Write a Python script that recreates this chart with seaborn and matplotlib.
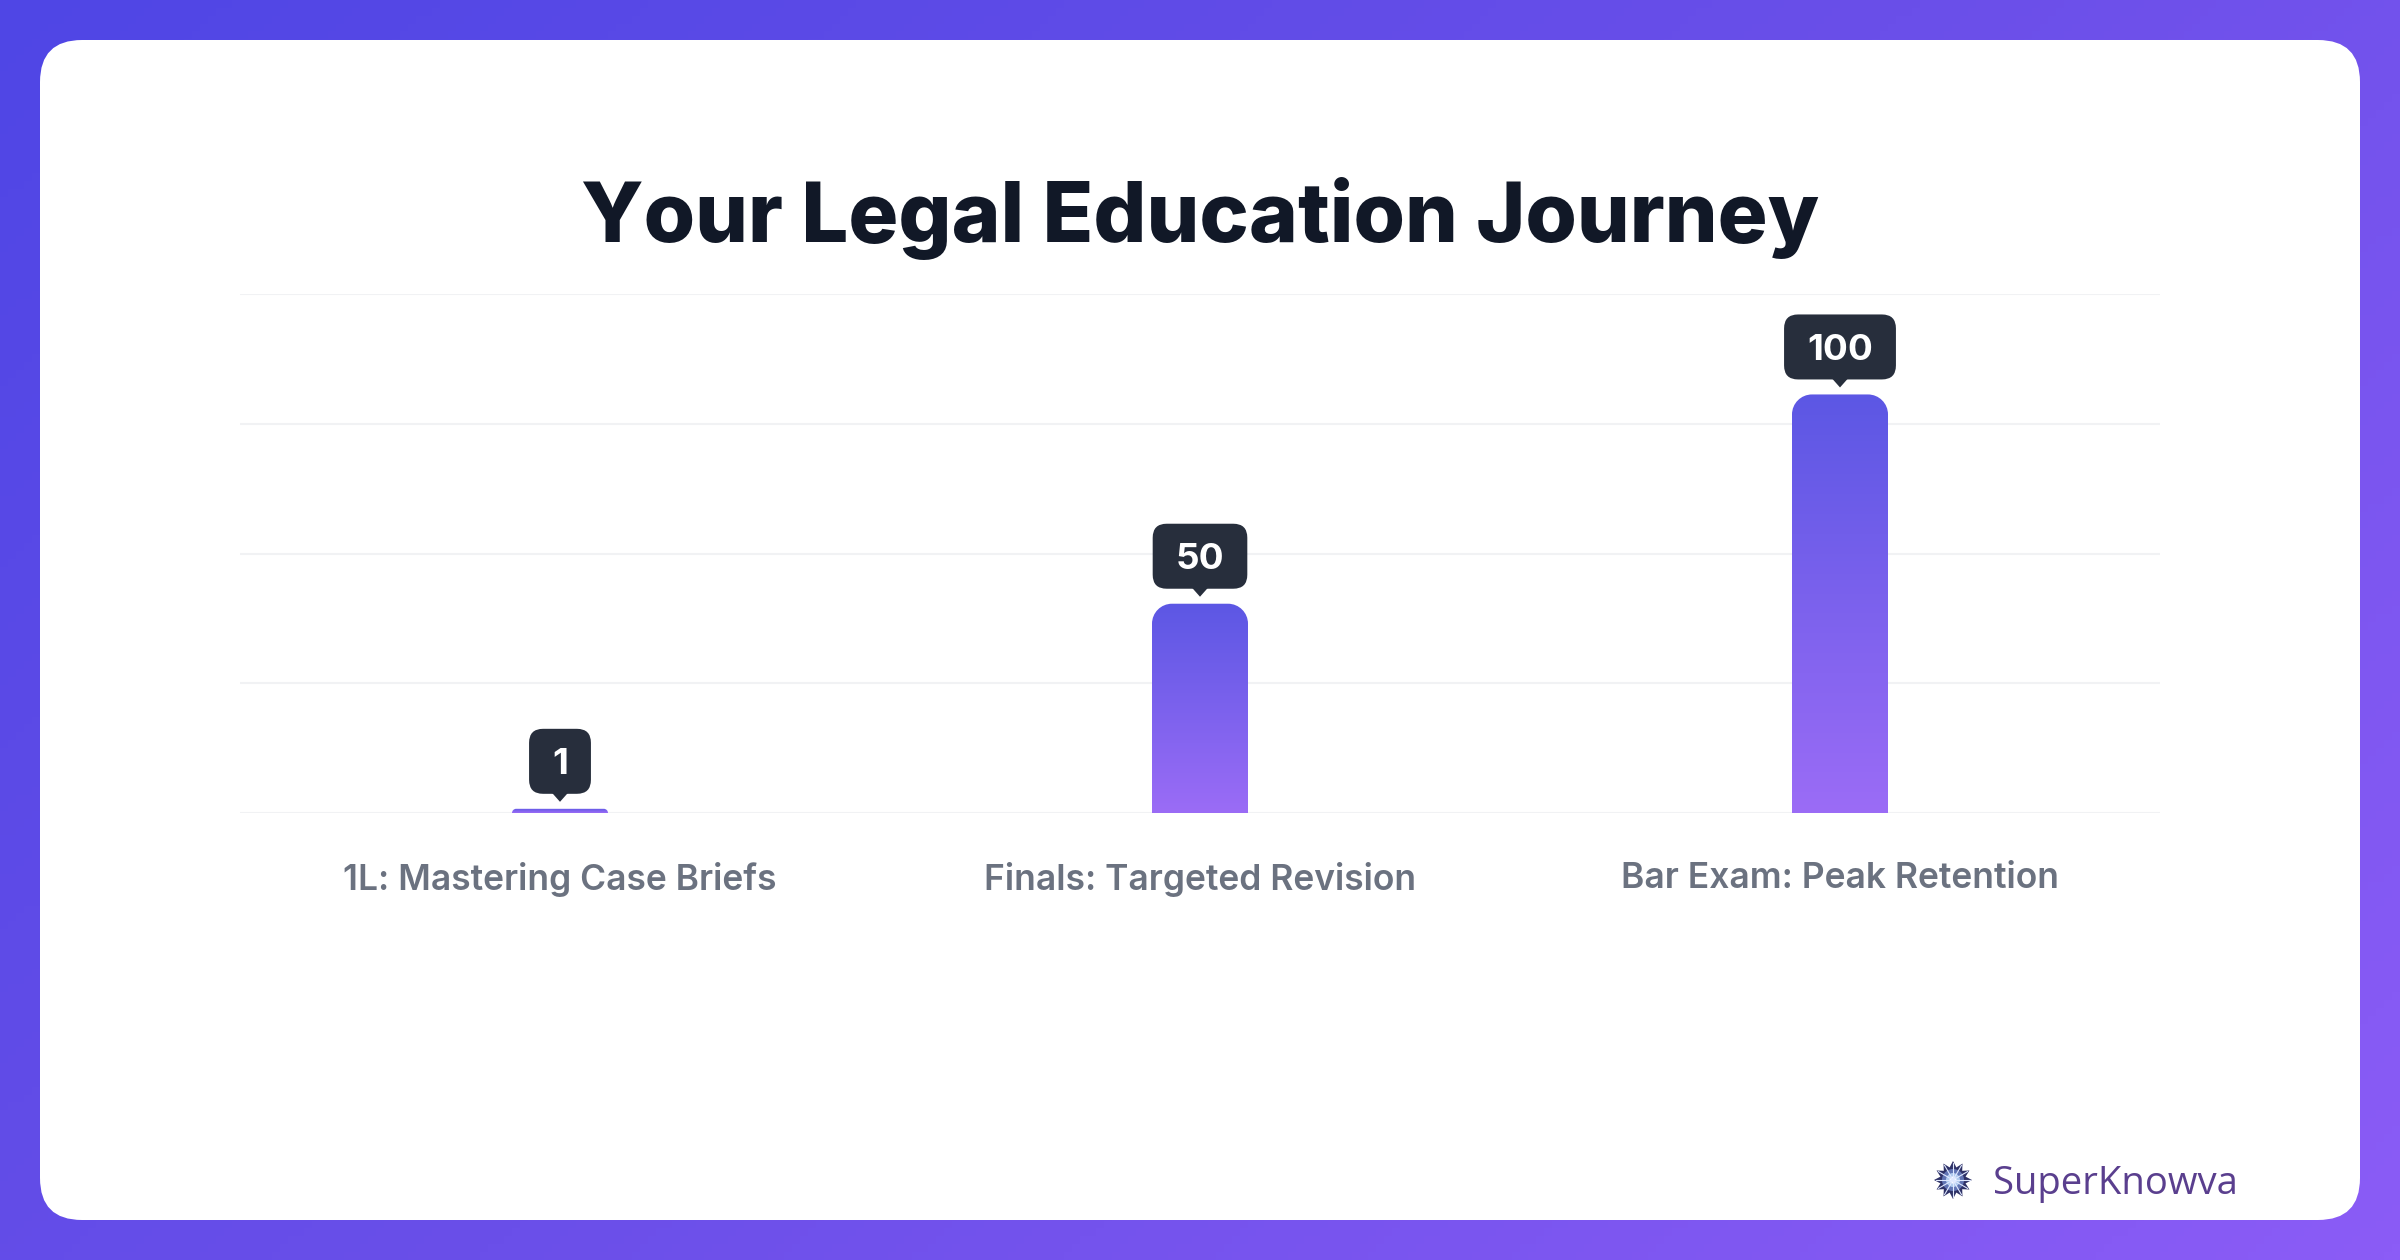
import numpy as np
import pandas as pd
import matplotlib
matplotlib.use('Agg')
import matplotlib.pyplot as plt
import seaborn as sns
from matplotlib.patches import FancyBboxPatch, PathPatch, Polygon, Circle
from matplotlib.path import Path
from matplotlib.transforms import IdentityTransform
from matplotlib.colors import LinearSegmentedColormap

# Chart data
stages = ['1L: Mastering Case Briefs', 'Finals: Targeted Revision', 'Bar Exam: Peak Retention']
scores = [1, 50, 100]
y_max = 124
title = 'Your Legal Education Journey'
brand = 'SuperKnowva'

W, H, DPI = 2400, 1260, 100

sns.set_theme(style='white')
plt.rcParams['font.family'] = ['Inter', 'DejaVu Sans']

fig = plt.figure(figsize=(W / DPI, H / DPI), dpi=DPI)

# Background gradient + white card
bg = fig.add_axes([0, 0, 1, 1])
bg.set_axis_off()
xx, yy = np.meshgrid(np.linspace(0, 1, 300), np.linspace(0, 1, 160))
t = (xx * 0.75 + yy * 0.45) / 1.2
bg_cmap = LinearSegmentedColormap.from_list('bg', ['#4f46e5', '#6a4fe9', '#8b5cf6'])
bg.imshow(t, cmap=bg_cmap, extent=[0, W, H, 0], aspect='auto', origin='upper')
bg.set_xlim(0, W)
bg.set_ylim(H, 0)
card = FancyBboxPatch((40 + 42, 40 + 42), W - 80 - 84, H - 80 - 84,
                      boxstyle='round,pad=42', fc='white', ec='none')
bg.add_patch(card)

# Chart axes
ax = fig.add_axes([240 / W, 447 / H, 1920 / W, 519 / H])
ax.patch.set_alpha(0)
df = pd.DataFrame({'stage': stages, 'score': scores})
sns.barplot(data=df, x='stage', y='score', width=0.15, color='#6d5ff0', ax=ax)
ax.set_xlim(-0.5, len(stages) - 0.5)
ax.set_ylim(0, y_max)
ax.set_yticks(np.linspace(0, y_max, 5))
ax.set_yticklabels([])
ax.grid(axis='y', color='#f1f2f4', linewidth=1.5)
ax.set_axisbelow(True)
for s in ax.spines.values():
    s.set_visible(False)
ax.set_xlabel('')
ax.set_ylabel('')
ax.tick_params(axis='x', length=0, pad=35, labelsize=25.5, colors='#6b7280')
for lab in ax.get_xticklabels():
    lab.set_fontweight('semibold')
ax.tick_params(axis='y', length=0)

# gradient fill + rounded tops for the bars
bar_cmap = LinearSegmentedColormap.from_list('bar', ['#9b6cf6', '#5c57e4'])
grad = np.linspace(0, 1, 256).reshape(-1, 1)
fig.canvas.draw()
renderer = fig.canvas.get_renderer()
for p in list(ax.patches):
    x0, w, h = p.get_x(), p.get_width(), p.get_height()
    p.set_visible(False)
    (px0, py0), (px1, py1) = ax.transData.transform([(x0, 0), (x0 + w, h)])
    r = min(20, (py1 - py0))
    k = 0.5523 * r
    verts = [(px0, py0), (px0, py1 - r),
             (px0, py1 - r + k), (px0 + r - k, py1), (px0 + r, py1),
             (px1 - r, py1),
             (px1 - r + k, py1), (px1, py1 - r + k), (px1, py1 - r),
             (px1, py0), (px0, py0)]
    codes = [Path.MOVETO, Path.LINETO,
             Path.CURVE4, Path.CURVE4, Path.CURVE4,
             Path.LINETO,
             Path.CURVE4, Path.CURVE4, Path.CURVE4,
             Path.LINETO, Path.CLOSEPOLY]
    clip = PathPatch(Path(verts, codes), transform=IdentityTransform())
    im = ax.imshow(grad, cmap=bar_cmap, extent=[x0, x0 + w, 0, h],
                   aspect='auto', origin='lower', zorder=3)
    im.set_clip_path(clip)

    # tooltip above the bar
    cx = (px0 + px1) / 2
    label = f'{int(round(h))}'
    txt = fig.text(cx / W, (py1 + 15 + 29) / H, label, ha='center', va='center',
                   fontsize=26.5, fontweight='bold', color='white', zorder=11)
    tw = txt.get_window_extent(renderer).width
    bw, bh = tw + 46, 65
    bx0, by0 = cx - bw / 2, py1 + 15
    box = FancyBboxPatch((bx0 + 14, by0 + 14), bw - 28, bh - 28,
                         boxstyle='round,pad=14', fc='#272e3c', ec='none',
                         transform=IdentityTransform(), zorder=10)
    fig.add_artist(box)
    tri = Polygon([(cx - 8, by0 + 1), (cx + 8, by0 + 1), (cx, py1 + 7)],
                  closed=True, fc='#272e3c', ec='none',
                  transform=IdentityTransform(), zorder=10)
    fig.add_artist(tri)

ax.set_xlim(-0.5, len(stages) - 0.5)
ax.set_ylim(0, y_max)

# Title
fig.text(0.5, 1 - 218 / H, title, ha='center', va='center', fontsize=60,
         fontweight='heavy', color='#111827')

# Brand mark
lx, ly = 1953, H - 1180
n = 12
ang = np.linspace(0, 2 * np.pi, 2 * n, endpoint=False) + np.pi / 2
rad = np.where(np.arange(2 * n) % 2 == 0, 19, 13)
star = Polygon(np.c_[lx + rad * np.cos(ang), ly + rad * np.sin(ang)], closed=True,
               fc='#2e3166', ec='none', transform=IdentityTransform(), zorder=5)
fig.add_artist(star)
for rr, col, a in [(11, '#6f86c9', 0.8), (7, '#b8d4f5', 0.9), (3.5, 'white', 1.0)]:
    fig.add_artist(Circle((lx, ly), rr, fc=col, ec='none', alpha=a,
                          transform=IdentityTransform(), zorder=6))
for a in ang[::2]:
    fig.add_artist(plt.Line2D([lx, lx + 17 * np.cos(a)], [ly, ly + 17 * np.sin(a)],
                              color='#dfe8ff', lw=0.8, transform=IdentityTransform(), zorder=7))
fig.text(1993 / W, 1 - 1184 / H, brand, ha='left', va='center', fontsize=27.5,
         fontweight='medium', color='#5a3f8e', family=['Open Sans', 'DejaVu Sans'])

fig.savefig('out.png', dpi=DPI)
